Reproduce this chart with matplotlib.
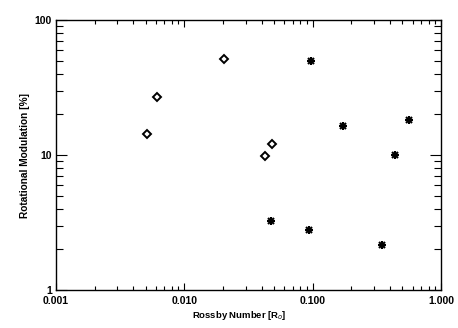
import matplotlib
matplotlib.use("Agg")
import matplotlib.pyplot as plt
from matplotlib.ticker import FixedLocator, LogLocator, NullFormatter

plt.rcParams['font.family'] = ['Liberation Sans', 'DejaVu Sans']

# Diamonds
ro_diamond = [0.0051, 0.0061, 0.0204, 0.0483, 0.0423]
mod_diamond = [14.3, 26.7, 51.4, 12.1, 9.9]
# Asterisks
ro_star = [0.0966, 0.0474, 0.0937, 0.173, 0.561, 0.438, 0.349]
mod_star = [50.0, 3.24, 2.78, 16.4, 18.2, 9.95, 2.14]

xticks = [0.001, 0.01, 0.1, 1.0]
xticklabels = ["0.001", "0.010", "0.100", "1.000"]
yticks = [1, 10, 100]
yticklabels = ["1", "10", "100"]

fig = plt.figure(figsize=(4.58, 3.28), dpi=100)
ax = fig.add_axes([56/458, 1 - 290/328, (441-56)/458, (290-20)/328])

ax.plot(ro_diamond, mod_diamond, linestyle='none', marker='D', ms=3.8,
        mfc='white', mec='black', mew=1.4)
ax.plot(ro_star, mod_star, linestyle='none', marker='x', ms=5.0,
        color='black', mew=1.5)
ax.plot(ro_star, mod_star, linestyle='none', marker='+', ms=6.0,
        color='black', mew=1.5)
ax.plot(ro_star, mod_star, linestyle='none', marker='s', ms=3.2,
        color='black', mew=0)

ax.set_xscale('log')
ax.set_yscale('log')
ax.set_xlim(0.001, 1.0)
ax.set_ylim(1, 100)

ax.xaxis.set_major_locator(FixedLocator(xticks))
ax.set_xticklabels(xticklabels)
ax.yaxis.set_major_locator(FixedLocator(yticks))
ax.set_yticklabels(yticklabels)
ax.xaxis.set_minor_locator(LogLocator(base=10, subs=range(2, 10)))
ax.yaxis.set_minor_locator(LogLocator(base=10, subs=range(2, 10)))
ax.xaxis.set_minor_formatter(NullFormatter())
ax.yaxis.set_minor_formatter(NullFormatter())

ax.tick_params(axis='both', which='both', direction='in', top=True, right=True,
               width=0.8, colors='black', labelsize=7.5)
ax.tick_params(axis='x', which='major', length=5, pad=4)
ax.tick_params(axis='x', which='minor', length=3)
ax.tick_params(axis='y', which='major', length=8, pad=3)
ax.tick_params(axis='y', which='minor', length=5)
for lab in ax.get_xticklabels() + ax.get_yticklabels():
    lab.set_fontweight('bold')
for s in ax.spines.values():
    s.set_linewidth(1.0)

ax.set_xlabel("Rossby Number [R$_o$]", fontsize=6.8, fontweight='bold', labelpad=2)
ax.xaxis.set_label_coords((239 - 56) / (441 - 56), -0.07)
ax.set_ylabel("Rotational Modulation [%]", fontsize=7.3, fontweight='bold', labelpad=3)

fig.savefig("out.png", dpi=100)
